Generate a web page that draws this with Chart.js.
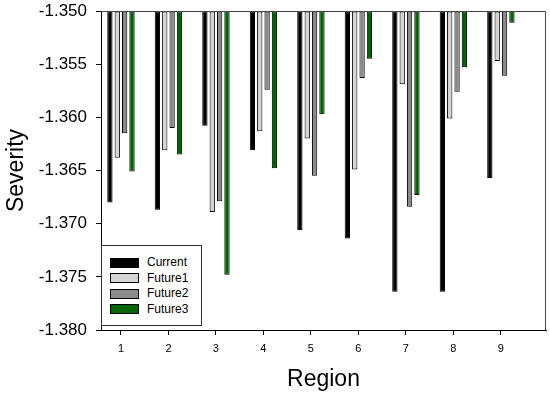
<!DOCTYPE html>
<html>
<head>
<meta charset="utf-8">
<script src="https://cdn.jsdelivr.net/npm/chart.js@4.4.1/dist/chart.umd.min.js"></script>
<style>
  body { margin: 0; background: #fff; }
  #wrap { position: relative; width: 550px; height: 396px; }
  #legend {
    position: absolute; left: 101px; top: 245px; width: 99px; height: 79px;
    border: 1px solid #333; background: #fff;
    font: 12px Arial, "Liberation Sans", sans-serif; color: #000;
  }
  .row { position: absolute; left: 8px; height: 15px; line-height: 15px; }
  .sw { display: inline-block; width: 27px; height: 8px; border: 1px solid #000; vertical-align: middle; margin-right: 8px; }
</style>
</head>
<body>
<div id="wrap">
  <canvas id="myChart" width="550" height="396"></canvas>
  <div id="legend"></div>
</div>
<script>
const regions = [1, 2, 3, 4, 5, 6, 7, 8, 9]
const current = [-1.3680, -1.3687, -1.3608, -1.3631, -1.3706, -1.3714, -1.3764, -1.3764, -1.3657]
const future1 = [-1.3638, -1.3631, -1.3689, -1.3613, -1.3620, -1.3649, -1.3569, -1.3601, -1.3547]
const future2 = [-1.3615, -1.3610, -1.3679, -1.3574, -1.3655, -1.3563, -1.3684, -1.3576, -1.3561]
const future3 = [-1.3651, -1.3635, -1.3748, -1.3648, -1.3597, -1.3545, -1.3673, -1.3553, -1.3511]
const yTop = -1.350
const yBottom = -1.380

const font = 'Arial, "Liberation Sans", sans-serif'

const series = [
    { label: 'Current', data: current, color: '#000000' },
    { label: 'Future1', data: future1, color: '#d4d4d4' },
    { label: 'Future2', data: future2, color: '#8a8a8a' },
    { label: 'Future3', data: future3, color: '#006400' },
]

// top and right frame lines
const frame = {
    id: 'frame',
    afterDraw(chart) {
        const { ctx, chartArea: a } = chart
        ctx.save()
        ctx.strokeStyle = '#444'
        ctx.lineWidth = 1
        ctx.beginPath()
        ctx.moveTo(a.left, a.top + 0.5)
        ctx.lineTo(a.right - 0.5, a.top + 0.5)
        ctx.lineTo(a.right - 0.5, a.bottom)
        ctx.stroke()
        ctx.restore()
    }
}

const ctx = document.getElementById('myChart').getContext('2d')
const myChart = new Chart(ctx, {
    type: 'bar',
    data: {
        datasets: series.map(s => ({
            label: s.label,
            data: s.data.map((v, i) => ({ x: regions[i], y: v })),
            base: yTop,
            backgroundColor: s.color,
            borderColor: '#000',
            borderWidth: 1,
            borderSkipped: false,
            barPercentage: 0.72,
            categoryPercentage: 0.62
        }))
    },
    options: {
        responsive: false,
        animation: false,
        devicePixelRatio: 1,
        layout: { padding: { left: 0, top: 11, right: 4, bottom: 0 } },
        plugins: { legend: { display: false }, tooltip: { enabled: false } },
        scales: {
            x: {
                type: 'linear',
                offset: false,
                min: 0.58,
                max: 9.95,
                afterBuildTicks: scale => { scale.ticks = regions.map(v => ({ value: v })) },
                afterFit: scale => { scale.height = 66; scale.paddingLeft = 0; scale.paddingRight = 0 },
                grid: { display: true, offset: false, drawOnChartArea: false, drawTicks: true, tickLength: 5, color: '#000' },
                border: { display: true, color: '#000' },
                ticks: { color: '#000', font: { family: font, size: 11 }, padding: 7, maxRotation: 0 },
                title: { display: true, text: 'Region', color: '#000', font: { family: font, size: 23 }, padding: { top: 0, bottom: 3 } }
            },
            y: {
                min: yBottom,
                max: yTop,
                afterFit: scale => { scale.width = 101; scale.paddingTop = 0; scale.paddingBottom = 0 },
                grid: { display: true, drawOnChartArea: false, drawTicks: true, tickLength: 5, color: '#000' },
                border: { display: true, color: '#000' },
                ticks: { stepSize: 0.005, color: '#000', font: { family: font, size: 17 }, padding: 9, callback: v => v.toFixed(3) },
                title: { display: true, text: 'Severity', color: '#000', font: { family: font, size: 23 }, padding: { top: 3, bottom: 0 } }
            }
        }
    },
    plugins: [frame]
})

// legend inside the plot, bottom-left
const legend = document.getElementById('legend')
series.forEach((s, i) => {
    const row = document.createElement('div')
    row.className = 'row'
    row.style.top = (9 + i * 15.5) + 'px'
    row.innerHTML = `<span class="sw" style="background:${s.color}"></span>${s.label}`
    legend.appendChild(row)
})
</script>
</body>
</html>
